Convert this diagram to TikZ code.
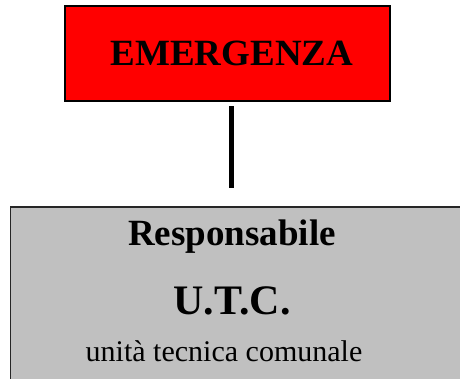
\documentclass[tikz,border=0pt]{standalone}
\usepackage{fontspec}
\setmainfont{Liberation Serif}
\usepackage{tikz}
\usetikzlibrary{positioning}
\definecolor{boxgray}{HTML}{C0C0C0}

\begin{document}
\begin{tikzpicture}[x=1pt,y=-1pt,
		redbox/.style={draw=black, fill=red, line width=2pt, minimum width=325pt, minimum height=95pt, inner sep=0pt},
		graybox/.style={draw=black!85, fill=boxgray, line width=1.5pt, minimum width=520pt, minimum height=220pt, inner sep=0pt, anchor=north west},
		bigtxt/.style={font=\bfseries\fontsize{#1}{#1}\selectfont, anchor=base, inner sep=0pt}]
		\useasboundingbox (0,0) rectangle (460,378);
		\node[redbox] (emergenza) at (227.5,53.5) {};
		\node[bigtxt=37] (emtxt) at (232,65) {EMERGENZA};
		\node[graybox] (utc) at (9.75,206.25) {};
		\node[bigtxt=37] (resp) at (232,245) {Responsabile};
		\node[bigtxt=42] (sigla) at (232,314) {U.T.C.};
		\node[font=\fontsize{30}{30}\selectfont, anchor=base, inner sep=0pt] (desc) at (224,361) {unità tecnica comunale};
		\coordinate (lineTop) at (231.5,106);
		\coordinate (lineBot) at (231.5,188);
		\draw[color=black, line width=5pt] (lineTop) -- (lineBot);
	\end{tikzpicture}
\end{document}
